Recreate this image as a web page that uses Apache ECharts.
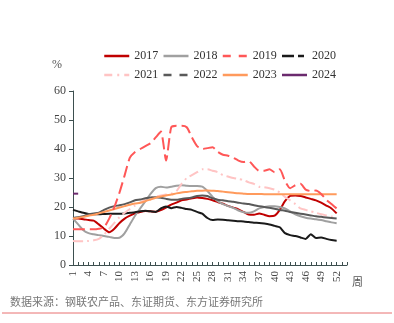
<!DOCTYPE html>
<html><head><meta charset="utf-8">
<script src="https://cdn.jsdelivr.net/npm/echarts@6/dist/echarts.min.js"></script>
<style>html,body{margin:0;padding:0;background:#fff}#c{width:394px;height:323px}</style>
</head><body><div id="c"></div>
<script>
var weeks = [];
for (var i = 1; i <= 54; i++) weeks.push(String(i));
var yTicks = [0, 10, 20, 30, 40, 50, 60];
var seriesNames = ['2017','2018','2019','2020','2021','2022','2023','2024'];
var s2017 = [16,16,15.8,15.5,15.3,14,12.5,11.3,12.5,14.5, 16,17,17.8,18.3,18.6,18.5,18.4,18.9,19.8,20.8, 21.5,22.3,22.6,23,23.3,23.1,22.8,22.3,21.7,21.1, 20.4,19.8,19.2,18.3,17.4,17.3,17.8,17.3,16.8,17, 19,22,23.8,24,23.8,23.3,22.8,22.3,21.5,20.5,19.5,17.8];
var s2018 = [16,14,12,11,10.6,10.3,10,9.7,9.3,9.4, 11,14,17,19.5,22,24.5,26.5,27,26.7,27, 27.3,27.5,27.3,27.2,27.2,27,25.5,23.5,22,21, 20.3,19.7,18.8,18.2,18,18.5,19.5,20,20.3,20.3, 20,19.5,18.5,17.5,16.8,16.3,16,15.8,15.5,15.1,14.7,14.4];
var s2019 = [12.3,12.3,12.3,12.3,12.3,12.5,13,16,20,25, 31,37,39,40,41,42,44,46,36,47.5, 48,48,47.5,44,41,40,40.3,40.6,39,38, 37.7,37,36,35.5,35.8,34,32.5,32.5,33,32, 33,29,26.5,27.5,28,26,25.5,25.7,24.5,22.5,21,19.5];
var s2020 = [19,18.5,18,17.6,17.5,17.5,17.6,17.7,17.7,17.7, 17.8,18,18.2,18.5,18.7,18.5,18.3,19.5,20.2,19.6, 20,19.7,19.3,19,18.3,17.7,16.2,15.5,15.7,15.6, 15.4,15.3,15.1,15,14.8,14.6,14.5,14.3,14,13.5, 13,11,10.3,10,9.5,9,10.6,9.3,9.5,9,8.6,8.4];
var s2021 = [8.3,8.2,8.2,8.3,8.5,9,10.5,12.5,14.5,16.5, 18,19.3,20.5,21.5,22.8,23.3,23.6,24,24.3,24.6, 25.5,28,30,31,32,33,33,32.5,32,31, 30.5,30,29.7,29.3,28.5,28,27,26.8,26.5,26, 25,23.5,22.3,21,19.5,19,18.5,18,17.5,17.1,16.7,16.3];
var s2022 = [16.2,16.5,16.8,17.5,17.8,18,19,19.8,20.3,20.6, 21,21.6,22.3,22.6,23,23.3,23.4,23.2,22.8,22.5, 22.5,22.8,23,23.3,23.8,24,23.8,23,22.5,22.3, 22,21.8,21.5,21.2,21,20.6,20.3,20,19.7,19.4, 19,18.7,18.3,18,17.7,17.4,17.1,16.8,16.6,16.4,16.2,16];
var s2023 = [16,16.3,16.6,17,17.3,17.8,18.3,18.8,19.3,19.8, 20.3,20.8,21.2,21.5,22,22.6,23.2,23.6,24,24.3, 24.7,25,25.2,25.4,25.6,25.6,25.7,25.6,25.5,25.3, 25.1,24.9,24.7,24.6,24.5,24.5,24.5,24.4,24.4,24.4, 24.4,24.4,24.4,24.4,24.4,24.4,24.4,24.4,24.4,24.4,24.4,24.4];
var s2024 = [24.6,24.6];

var values = [s2017,s2018,s2019,s2020,s2021,s2022,s2023,s2024];
var colors = ['#c00000','#a0a0a0','#ff5757','#1a1a1a','#ffc4c4','#595959','#ff9a5c','#6b2a6e'];
var plotTypes = ['solid','solid',[12,5],'solid',[10,4,2,4],'solid','solid','solid'];
var legendTypes = ['solid','solid',[8,8],[12,4,6,4],[8,5,2,5],[8,8],'solid','solid'];

var series = seriesNames.map(function(n, k){
  return {name:n, type:'line', data:values[k], symbol:'none', smooth:0.2,
    lineStyle:{color:colors[k], width:2, type:plotTypes[k], cap:'butt', join:'round'},
    itemStyle:{color:colors[k]}, z: k===2 ? 5 : 3};
});
function legendData(list){
  return list.map(function(n){var k=seriesNames.indexOf(n);
    return {name:n, itemStyle:{opacity:0}, lineStyle:{type:legendTypes[k], width:2.5, color:colors[k]}};});
}
var legendBase = {itemWidth:25, itemHeight:8, itemGap:4, textStyle:{fontFamily:'Liberation Serif', fontSize:12, color:'#333'}, left:98};
var chart = echarts.init(document.getElementById('c'));
chart.setOption({
  animation:false,
  grid:{left:73, right:47, top:91, bottom:58},
  legend:[
    Object.assign({top:45, data:legendData(['2017','2018','2019','2020'])}, legendBase),
    Object.assign({top:64, data:legendData(['2021','2022','2023','2024'])}, legendBase)
  ],
  xAxis:{type:'category', data:weeks, boundaryGap:false,
    axisLine:{lineStyle:{color:'#3d4f4f', width:1}},
    axisTick:{interval:0, inside:true, length:3, lineStyle:{color:'#3d4f4f'}},
    axisLabel:{interval:2, rotate:90, fontFamily:'Liberation Serif', fontSize:11, color:'#444', margin:6},
    splitLine:{show:false}},
  yAxis:{type:'value', min:yTicks[0], max:yTicks[yTicks.length-1], interval:10,
    axisLine:{show:true, lineStyle:{color:'#3d4f4f', width:1}},
    axisTick:{show:true, length:4, lineStyle:{color:'#3d4f4f'}},
    axisLabel:{fontFamily:'Liberation Serif', fontSize:12, color:'#444', margin:7},
    splitLine:{show:false}},
  graphic:[
    {type:'text', left:52, top:59, style:{text:'%', fontFamily:'Liberation Serif', fontSize:12, fill:'#555'}},
    {type:'text', left:352, top:276, style:{text:'周', fontFamily:'Noto Sans CJK SC', fontSize:11, fill:'#555'}},
    {type:'text', left:10, top:296, style:{text:'数据来源：钢联农产品、东证期货、东方证券研究所', fontFamily:'Noto Sans CJK SC', fontSize:11, fill:'#777'}},
    {type:'line', shape:{x1:2, y1:313, x2:392, y2:313}, style:{stroke:'#e87070', lineWidth:1}}
  ],
  series:series
});
</script></body></html>
